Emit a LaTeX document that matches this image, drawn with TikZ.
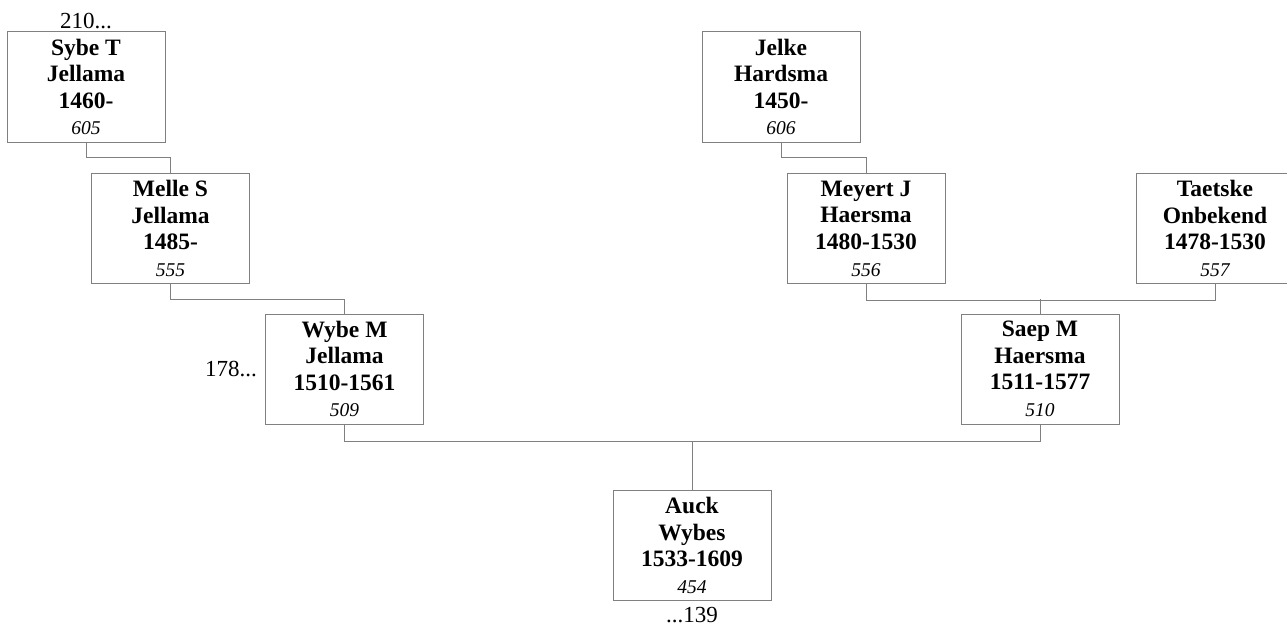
\documentclass[tikz,border=0pt]{standalone}
\usepackage{fontspec}
\setmainfont{Liberation Serif}
\definecolor{linegray}{RGB}{128,128,128}
\tikzset{
  person/.style={draw=linegray, line width=1pt, fill=white, minimum width=158pt, minimum height=110pt,
    inner sep=0pt, align=center, font=\fontsize{23.5}{26.6}\selectfont\bfseries},
  conn/.style={draw=linegray, line width=1pt},
  ref/.style={inner sep=0pt, font=\fontsize{23}{26}\selectfont}
}
\newcommand{\pnum}[1]{{\fontsize{19.5}{23}\selectfont\mdseries\itshape #1}}
\begin{document}
\begin{tikzpicture}[x=1pt,y=-1pt]
\useasboundingbox (0,0) rectangle (1287,626);
\clip (0,0) rectangle (1287,626);
\node[person] (sybe) at (86,87) {Sybe T\\Jellama\\1460-\\\pnum{605}};
\node[person] (melle) at (170.5,228.5) {Melle S\\Jellama\\1485-\\\pnum{555}};
\node[person] (wybe) at (344.5,369) {Wybe M\\Jellama\\1510-1561\\\pnum{509}};
\node[person] (auck) at (692,545.5) {Auck\\Wybes\\1533-1609\\\pnum{454}};
\node[person] (jelke) at (781,87) {Jelke\\Hardsma\\1450-\\\pnum{606}};
\node[person] (meyert) at (866,228.5) {Meyert J\\Haersma\\1480-1530\\\pnum{556}};
\node[person] (taetske) at (1215,228.5) {Taetske\\Onbekend\\1478-1530\\\pnum{557}};
\node[person] (saep) at (1040,369) {Saep M\\Haersma\\1511-1577\\\pnum{510}};

\node[ref, anchor=south] (r210) at ([yshift=2pt]sybe.north) {210...};
\node[ref, anchor=east] (r178) at ([xshift=-8pt]wybe.west) {178...};
\node[ref, anchor=north] (r139) at ([yshift=-6pt]auck.south) {...139};

\draw[conn] (sybe.south) -- ++(0,15) -| (melle.north);
\draw[conn] (melle.south) -- ++(0,15) -| (wybe.north);
\draw[conn] (jelke.south) -- ++(0,15) -| (meyert.north);
\draw[conn] (meyert.south) -- ++(0,16) -| (taetske.south);
\coordinate (jm) at (saep.north |- 0,299);
\draw[conn] (jm) -- (saep.north);
\draw[conn] (wybe.south) -- ++(0,17) -| (saep.south);
\coordinate (ja) at (auck.north |- 0,441);
\draw[conn] (ja) -- (auck.north);
\end{tikzpicture}
\end{document}
